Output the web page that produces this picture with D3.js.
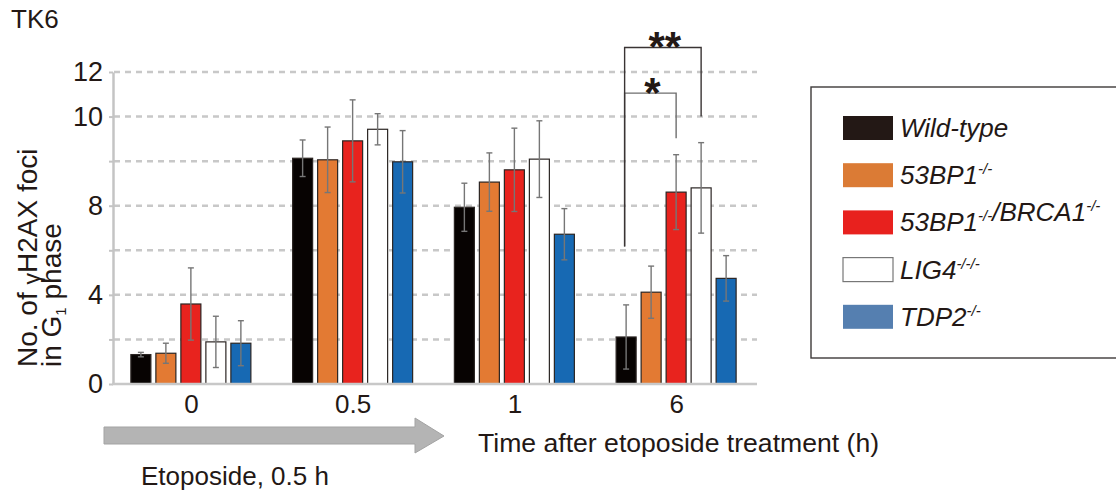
<!DOCTYPE html>
<html>
<head>
<meta charset="utf-8">
<script src="https://cdn.jsdelivr.net/npm/d3@7"></script>
<style>
  body { margin: 0; background: #fff; }
  svg { display: block; font-family: "Liberation Sans", Arial, sans-serif; }
</style>
</head>
<body>
<svg></svg>
<script>
// time points after etoposide (h)
let groups = ['0', '0.5', '1', '6']
let series = ['Wild-type', '53BP1', '53BP1/BRCA1', 'LIG4', 'TDP2']

// bar heights, in grid units (one dashed line = 2)
let wildType = [1.32, 10.13, 7.93, 2.11]
let bp53 = [1.38, 10.06, 9.06, 4.12]
let bp53brca1 = [3.59, 10.91, 9.61, 8.61]
let lig4 = [1.89, 11.43, 10.09, 8.80]
let tdp2 = [1.83, 9.97, 6.72, 4.74]

// error bars (+/-)
let wildTypeErr = [0.10, 0.82, 1.08, 1.44]
let bp53Err = [0.45, 1.47, 1.31, 1.17]
let bp53brca1Err = [1.62, 1.84, 1.87, 1.68]
let lig4Err = [1.15, 0.70, 1.72, 2.03]
let tdp2Err = [1.01, 1.40, 1.15, 1.02]

// axis ticks, labels as printed on the figure
let yTicks = [0, 2, 4, 6, 8, 10, 12, 14]
let yTickLabels = ['0', '', '4', '', '8', '', '10', '12']

// legend text: [main, superscript] pieces
let legendLabels = [
    [['Wild-type', '']],
    [['53BP1', '-/-']],
    [['53BP1', '-/-'], ['/BRCA1', '-/-']],
    [['LIG4', '-/-/-']],
    [['TDP2', '-/-']]
]

// significance brackets at 6 h
let brackets = [
    {group: '6', from: 'Wild-type', to: '53BP1/BRCA1', start: 6.17, top: 13.05, end: 11.03, label: '*', color: '#6e6e6e'},
    {group: '6', from: 'Wild-type', to: 'LIG4', start: 6.17, top: 15.1, end: 12.0, label: '**', color: '#3a3434'}
]

let values = [wildType, bp53, bp53brca1, lig4, tdp2]
let errors = [wildTypeErr, bp53Err, bp53brca1Err, lig4Err, tdp2Err]
let barColors = ['#070302', '#e37a33', '#e8231e', '#ffffff', '#1769b3']
let legendColors = ['#231815', '#db7b35', '#e8211e', '#ffffff', '#557fb0']

let width = 1116
let height = 498

let svg = d3.select('svg')
    .attr('width', width)
    .attr('height', height)

let x0 = d3.scalePoint()
    .domain(groups)
    .range([110, 757])
    .padding(0.5)

let x1 = d3.scaleBand()
    .domain(series)
    .range([-60, 60])
    .paddingInner(0.2)

let y = d3.scaleLinear()
    .domain([0, 14])
    .range([384, 72])

let barData = []
groups.forEach((g, gi) => {
    series.forEach((s, si) => {
        barData.push({group: g, series: s, value: values[si][gi], err: errors[si][gi], color: barColors[si]})
    })
})

// grid
svg.append('g')
   .selectAll('line')
   .data(yTicks.filter(d => d > 0))
   .enter()
   .append('line')
   .attr('x1', 114)
   .attr('x2', 757)
   .attr('y1', d => y(d))
   .attr('y2', d => y(d))
   .attr('stroke', '#c8c8c8')
   .attr('stroke-width', 2.5)
   .attr('stroke-dasharray', '6,5')

// bars
svg.append('g')
   .selectAll('rect')
   .data(barData)
   .enter()
   .append('rect')
   .attr('x', d => x0(d.group) + x1(d.series))
   .attr('y', d => y(d.value))
   .attr('width', x1.bandwidth())
   .attr('height', d => y(0) - y(d.value))
   .attr('fill', d => d.color)
   .attr('stroke', '#2b2523')
   .attr('stroke-width', 1.2)

// error bars
let errG = svg.append('g')
    .attr('stroke', '#767676')
    .attr('stroke-width', 1.4)
    .attr('fill', 'none')
barData.forEach(d => {
    let cx = x0(d.group) + x1(d.series) + x1.bandwidth() / 2
    errG.append('line').attr('x1', cx).attr('x2', cx).attr('y1', y(d.value + d.err)).attr('y2', y(d.value - d.err))
    errG.append('line').attr('x1', cx - 3).attr('x2', cx + 3).attr('y1', y(d.value + d.err)).attr('y2', y(d.value + d.err))
    errG.append('line').attr('x1', cx - 3).attr('x2', cx + 3).attr('y1', y(d.value - d.err)).attr('y2', y(d.value - d.err))
})

// axes
let yAxis = d3.axisLeft(y)
    .tickValues(yTicks)
    .tickFormat((d, i) => yTickLabels[i])
    .tickSize(4)
    .tickSizeOuter(0)
    .tickPadding(6)
let yG = svg.append('g')
    .attr('transform', 'translate(113,0)')
    .call(yAxis)
yG.select('.domain').attr('stroke', '#c4c4c4').attr('stroke-width', 2.5)
yG.selectAll('.tick line').attr('stroke', '#c4c4c4').attr('stroke-width', 2)
yG.selectAll('.tick text')
  .attr('font-size', 27)
  .attr('font-family', '"Liberation Sans", Arial, sans-serif')
  .attr('fill', '#231815')

let xAxis = d3.axisBottom(x0)
    .tickSize(0)
    .tickPadding(11)
let xG = svg.append('g')
    .attr('transform', 'translate(0,384)')
    .call(xAxis)
xG.select('.domain').attr('d', 'M112,0H757').attr('stroke', '#c8c8c8').attr('stroke-width', 2.5)
xG.selectAll('.tick text')
  .attr('font-size', 26)
  .attr('font-family', '"Liberation Sans", Arial, sans-serif')
  .attr('fill', '#231815')

// significance brackets
brackets.forEach(b => {
    let xa = x0(b.group) + x1(b.from) + x1.bandwidth() / 2 - 1.5
    let xb = x0(b.group) + x1(b.to) + x1.bandwidth() / 2
    svg.append('path')
       .attr('d', 'M' + xa + ',' + y(b.start) + 'V' + y(b.top) + 'H' + xb + 'V' + y(b.end))
       .attr('fill', 'none')
       .attr('stroke', b.color)
       .attr('stroke-width', 1.4)
    svg.append('text')
       .attr('x', (xa + xb) / 2 + 2)
       .attr('y', y(b.top) + 14)
       .attr('text-anchor', 'middle')
       .attr('font-size', 42)
       .attr('font-weight', 'bold')
       .attr('fill', '#231815')
       .text(b.label)
})

// y title
let yt1 = svg.append('text')
    .attr('transform', 'translate(37,367) rotate(-90)')
    .attr('font-size', 28)
    .attr('fill', '#231815')
yt1.append('tspan').text('No. of ')
yt1.append('tspan').attr('font-size', 23).attr('dy', 3).text('γ')
yt1.append('tspan').attr('dy', -3).text('H2AX foci')

let yt2 = svg.append('text')
    .attr('transform', 'translate(61,367) rotate(-90)')
    .attr('font-size', 28)
    .attr('fill', '#231815')
yt2.append('tspan').text('in G')
yt2.append('tspan').attr('font-size', 15).attr('dy', 5).text('1')
yt2.append('tspan').attr('dy', -5).text(' phase')

svg.append('text')
   .attr('x', 11)
   .attr('y', 28)
   .attr('font-size', 26)
   .attr('fill', '#231815')
   .text('TK6')

// etoposide arrow
svg.append('path')
   .attr('d', 'M104,427V444H415V453L444,436L415,418V427Z')
   .attr('fill', '#b4b4b4')
   .attr('stroke', '#a3a3a3')
   .attr('stroke-width', 1)

svg.append('text')
   .attr('x', 141)
   .attr('y', 485)
   .attr('font-size', 26)
   .attr('fill', '#231815')
   .text('Etoposide, 0.5 h')

svg.append('text')
   .attr('x', 478)
   .attr('y', 452)
   .attr('font-size', 26.6)
   .attr('fill', '#231815')
   .text('Time after etoposide treatment (h)')

// legend
let lg = svg.append('g')
lg.append('rect')
  .attr('x', 811)
  .attr('y', 87)
  .attr('width', 400)
  .attr('height', 271)
  .attr('fill', 'none')
  .attr('stroke', '#3e3a39')
  .attr('stroke-width', 1.4)

legendLabels.forEach((parts, i) => {
    let yy = 116 + i * 47.2
    lg.append('rect')
      .attr('x', 843)
      .attr('y', yy)
      .attr('width', 50)
      .attr('height', 24)
      .attr('fill', legendColors[i])
      .attr('stroke', i == 3 ? '#777' : 'none')
      .attr('stroke-width', 1.2)
    let t = lg.append('text')
      .attr('x', 900)
      .attr('y', yy + 21)
      .attr('font-size', 26)
      .attr('font-style', 'italic')
      .attr('fill', '#231815')
    parts.forEach(p => {
        t.append('tspan').attr('dy', 0).text(p[0])
        if (p[1] != '') {
            t.append('tspan').attr('font-size', 15).attr('dy', -10).text(p[1])
            t.append('tspan').attr('dy', 10).text('')
        }
    })
})
</script>
</body>
</html>
